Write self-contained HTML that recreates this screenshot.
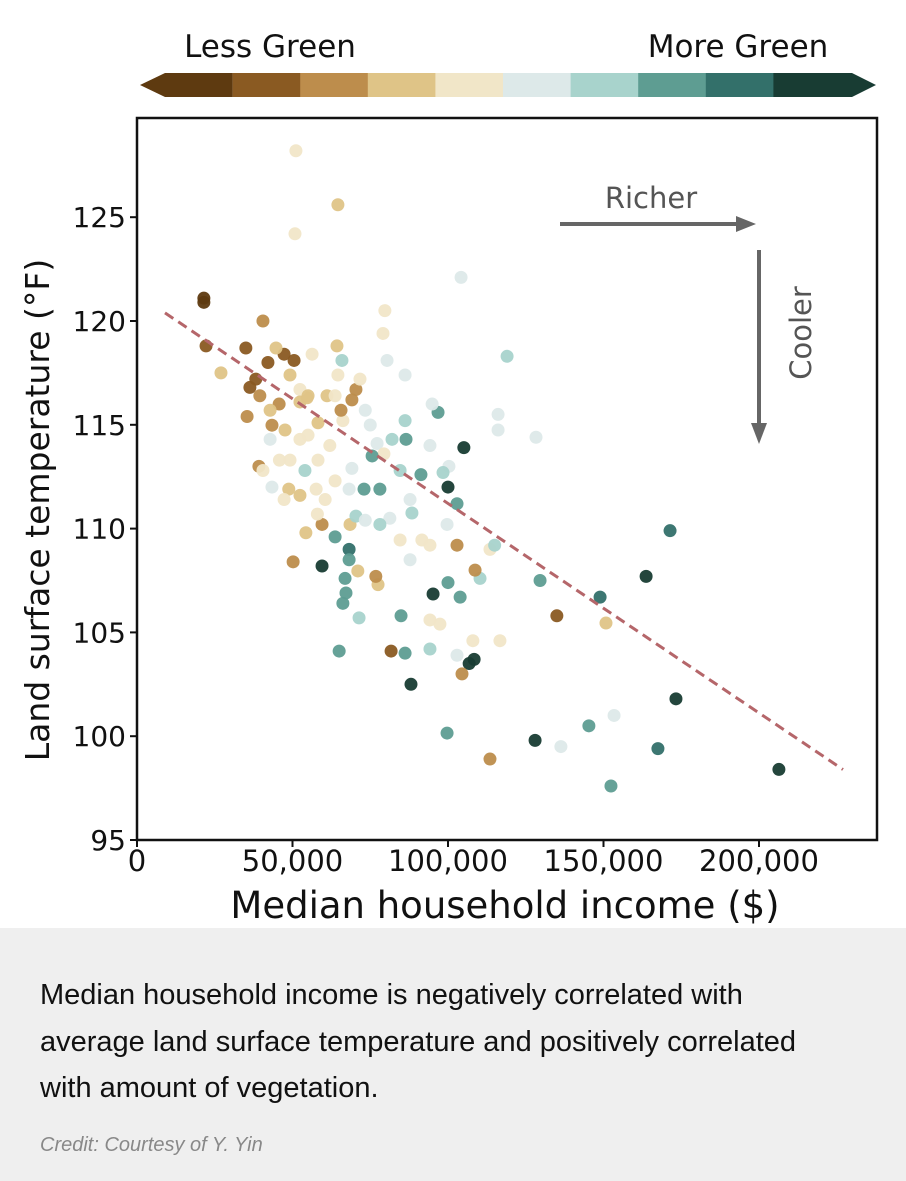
<!DOCTYPE html>
<html><head><meta charset="utf-8"><style>
html,body{margin:0;padding:0;background:#fff;width:906px;height:1181px;overflow:hidden;font-family:"Liberation Sans",sans-serif}
#cap{position:absolute;left:0;top:928px;width:906px;height:253px;background:#efefef}
#cap p{position:absolute;left:40px;top:44px;margin:0;font-size:29px;line-height:46.5px;color:#111;width:800px}
#cap .credit{position:absolute;left:40px;top:206px;font-size:20px;font-style:italic;color:#888}
</style></head><body>
<svg id="chart" width="906" height="928" style="position:absolute;left:0;top:0" font-family="DejaVu Sans, sans-serif"></svg>
<div id="cap">
<p>Median household income is negatively correlated with average land surface temperature and positively correlated with amount of vegetation.</p>
<div class="credit">Credit: Courtesy of Y. Yin</div>
</div>
<script>
const palette=["#5e3a10","#8a5a22","#bd8d4c","#dfc487","#f1e6c8","#dde9e9","#a8d3cc","#5e9d92","#33706a","#183c33"];
const xTicks=[0,50000,100000,150000,200000];
const xTickLabels=["0","50,000","100,000","150,000","200,000"];
const yTicks=[95,100,105,110,115,120,125];
const incomeK=[21.5,21.5,22.2,51.1,64.6,50.8,27,40.5,35,35.4,39.2,50.2,45.7,43.4,47.3,50.5,42.1,38.2,36.3,39.5,44.7,49.2,54.7,56.3,52.4,47.6,52.4,49.2,48.8,54,43.4,47.3,54.3,60.5,59.5,68.5,63.7,59.5,68.2,68.2,66.9,67.2,66.2,71,77.5,76.8,71.4,65,81.7,86.2,88.1,84.9,95.2,100,103.9,108.4,106.8,104.5,99.7,113.5,128,129.6,135,136.3,145.3,148.9,150.8,152.4,153.4,163.7,171.4,173.3,167.5,206.4,119,104.2,116.1,116.1,128.3,96.8,105.1,100,102.9,100.3,94.9,80.4,79.7,79.1,86.2,86.5,82,77.2,73,79.4,84.6,78.1,81.3,88.4,91.6,94.2,70.4,78.1,84.6,102.9,113.5,115,110.3,108.7,94.2,97.4,108,116.7,94.2,102.9,55,58.2,62,63.7,66.2,70.4,69.1,64.6,65.9,64.3,71.7,73.4,75,57.6,52.4,58,42.8,45.8,40.5,52.4,58.2,55,61.1,65.6,63.7,42.8,69.1,86.2,94.2,91.3,73.4,68.2,75.6,87.8,98.4,99.7,87.8];
const tempF=[121.1,120.9,118.8,128.2,125.6,124.2,117.5,120,118.7,115.4,113,108.4,116,114.98,118.4,118.1,118,117.2,116.8,116.4,118.7,117.4,116.3,118.4,116.7,114.75,114.3,113.3,111.9,112.8,112,111.4,109.8,111.4,110.2,110.2,109.6,108.2,109,108.5,107.6,106.9,106.4,107.96,107.3,107.7,105.7,104.1,104.1,104,102.5,105.8,106.85,107.4,106.7,103.7,103.5,103,100.15,98.9,99.8,107.5,105.8,99.5,100.5,106.7,105.45,97.6,101,107.7,109.9,101.8,99.4,98.4,118.3,122.1,115.5,114.75,114.4,115.6,113.9,112,111.2,113,116,118.1,120.5,119.4,115.2,114.3,114.3,114.1,111.9,113.6,112.8,111.9,110.5,110.75,109.45,109.2,110.6,110.2,109.45,109.2,109,109.2,107.6,108,105.6,105.4,104.6,104.6,104.2,103.9,114.5,113.3,114,112.3,115.2,116.7,116.2,117.4,118.1,118.8,117.2,115.7,114.99,111.9,111.6,110.7,114.3,113.3,112.8,116.1,115.1,116.4,116.4,115.7,116.4,115.7,112.9,117.4,114,112.6,110.4,111.9,113.5,111.4,112.7,110.2,108.5];
const greenLevel=[0,0,1,4,3,4,3,2,1,2,2,2,2,2,1,1,1,1,1,2,3,3,3,4,4,3,4,4,3,6,5,4,3,4,2,3,7,9,8,7,7,7,7,3,3,2,6,7,1,7,9,7,9,7,7,9,9,2,7,2,9,7,1,5,7,8,3,7,5,9,8,9,8,9,6,5,5,5,5,7,9,9,7,5,5,5,4,4,6,7,6,5,7,4,6,7,5,6,4,4,6,6,4,2,4,6,6,2,4,4,4,4,6,5,4,4,4,4,4,2,2,4,6,3,4,5,5,4,3,4,5,4,4,3,3,3,3,2,4,3,5,5,5,7,5,5,7,5,6,5,5];
const trendX=[9,227];
const trendSlope=-0.1009, trendIntercept=121.3;

const svg=document.getElementById('chart');
const NS="http://www.w3.org/2000/svg";
const L=137,R=877,T=118,B=840;
const xs=v=>L+v/50000*155.5;
const ys=v=>B-(v-95)*20.76;
function mk(tag,attrs,parent){const e=document.createElementNS(NS,tag);for(const k in attrs)e.setAttribute(k,attrs[k]);(parent||svg).appendChild(e);return e;}

const cb=mk('g',{});


const segL=165,segW=67.6,cy0=73,cy1=97;
palette.forEach((c,i)=>{
  let x0=segL+(i)*segW,x1=x0+segW;
  if(i===0){mk('polygon',{points:`140,85 ${segL},${cy0} ${x1},${cy0} ${x1},${cy1} ${segL},${cy1}`,fill:c},cb);}
  else if(i===9){mk('polygon',{points:`${x0},${cy0} 852,${cy0} 876,85 852,${cy1} ${x0},${cy1}`,fill:c},cb);}
  else mk('rect',{x:x0,y:cy0,width:segW+0.5,height:cy1-cy0,fill:c},cb);
});
let t=mk('text',{x:270,y:57,'font-size':31,'text-anchor':'middle',fill:'#111'});t.textContent='Less Green';

t=mk('text',{x:738,y:57,'font-size':31,'text-anchor':'middle',fill:'#111'});t.textContent='More Green';


const fr=mk('rect',{x:L,y:T,width:R-L,height:B-T,fill:'none',stroke:'#111','stroke-width':2.5});


xTicks.forEach((v,i)=>{
  mk('line',{x1:xs(v),x2:xs(v),y1:B,y2:B+7,stroke:'#111','stroke-width':2});
  const tx=mk('text',{x:xs(v),y:B+31,'font-size':29,'text-anchor':'middle',fill:'#111'});tx.textContent=xTickLabels[i];
  
});
yTicks.forEach(v=>{
  mk('line',{x1:L-7,x2:L,y1:ys(v),y2:ys(v),stroke:'#111','stroke-width':2});
  const tx=mk('text',{x:L-11,y:ys(v)+10,'font-size':28,'text-anchor':'end',fill:'#111'});tx.textContent=v;
  
});
t=mk('text',{x:505,y:918,'font-size':37,'text-anchor':'middle',fill:'#111'});t.textContent='Median household income ($)';

t=mk('text',{x:0,y:0,'font-size':33,'text-anchor':'middle',fill:'#111',transform:'translate(49,510) rotate(-90)'});t.textContent='Land surface temperature (°F)';


incomeK.forEach((v,i)=>{
  const c=mk('circle',{cx:xs(v*1000),cy:ys(tempF[i]),r:6.5,fill:palette[greenLevel[i]],opacity:0.95});
  
  
});

const tl=mk('line',{x1:xs(trendX[0]*1000),y1:ys(trendIntercept+trendSlope*trendX[0]),x2:xs(trendX[1]*1000),y2:ys(trendIntercept+trendSlope*trendX[1]),stroke:'#b5666a','stroke-width':3,'stroke-dasharray':'10 6'});


const an=mk('g',{fill:'#666',stroke:'#666'});

mk('line',{x1:560,y1:224,x2:738,y2:224,'stroke-width':4},an);
mk('polygon',{points:'736,216 756,224 736,232',stroke:'none'},an);
mk('line',{x1:759,y1:250,x2:759,y2:425,'stroke-width':4},an);
mk('polygon',{points:'751,423 759,444 767,423',stroke:'none'},an);
t=mk('text',{x:651,y:208,'font-size':29,'text-anchor':'middle',fill:'#555',stroke:'none'},an);t.textContent='Richer';

t=mk('text',{x:0,y:0,'font-size':29,'text-anchor':'middle',fill:'#555',stroke:'none',transform:'translate(811,333) rotate(-90)'},an);t.textContent='Cooler';

</script>
</body></html>
